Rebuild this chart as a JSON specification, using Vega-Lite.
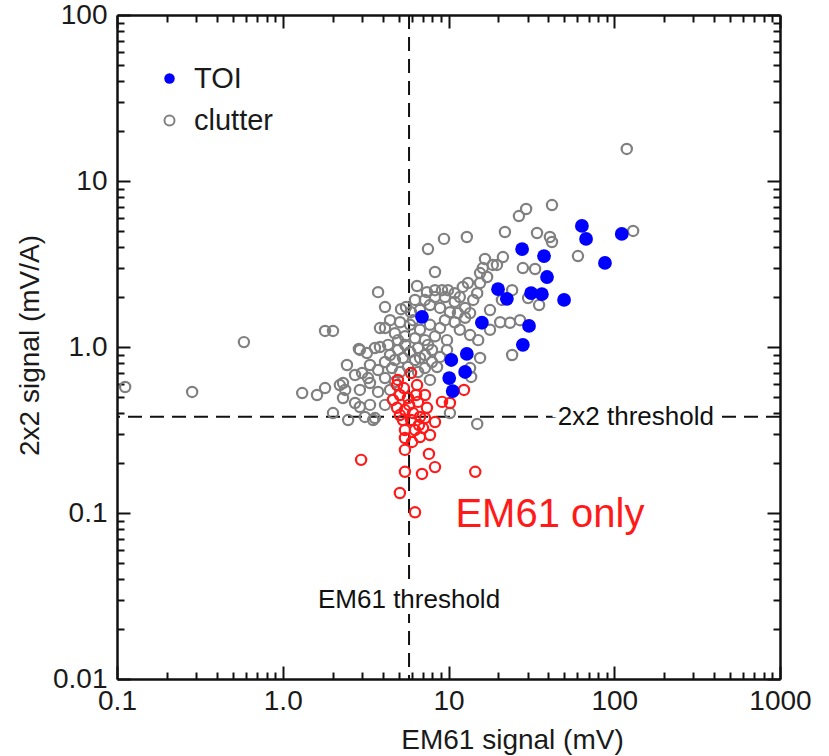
{
  "$schema": "https://vega.github.io/schema/vega-lite/v6.json",
  "width": 663,
  "height": 664,
  "autosize": {"type": "none"},
  "padding": {"left": 117, "top": 15, "right": 49, "bottom": 77},
  "background": "white",
  "config": {
    "view": {"stroke": null},
    "font": "Liberation Sans",
    "axis": {"grid": false}
  },
  "datasets": {
    "pts": [
      {"em61": 0.112, "s2x2": 0.574, "group": "clutter"},
      {"em61": 0.284, "s2x2": 0.536, "group": "clutter"},
      {"em61": 0.583, "s2x2": 1.07, "group": "clutter"},
      {"em61": 1.31, "s2x2": 0.528, "group": "clutter"},
      {"em61": 1.61, "s2x2": 0.514, "group": "clutter"},
      {"em61": 1.80, "s2x2": 0.566, "group": "clutter"},
      {"em61": 2.21, "s2x2": 0.590, "group": "clutter"},
      {"em61": 2.31, "s2x2": 0.493, "group": "clutter"},
      {"em61": 2.44, "s2x2": 0.779, "group": "clutter"},
      {"em61": 2.92, "s2x2": 0.960, "group": "clutter"},
      {"em61": 2.01, "s2x2": 0.400, "group": "clutter"},
      {"em61": 2.48, "s2x2": 0.363, "group": "clutter"},
      {"em61": 3.60, "s2x2": 0.373, "group": "clutter"},
      {"em61": 2.92, "s2x2": 0.435, "group": "clutter"},
      {"em61": 1.80, "s2x2": 1.25, "group": "clutter"},
      {"em61": 2.01, "s2x2": 1.25, "group": "clutter"},
      {"em61": 3.76, "s2x2": 2.14, "group": "clutter"},
      {"em61": 4.14, "s2x2": 1.74, "group": "clutter"},
      {"em61": 3.86, "s2x2": 1.30, "group": "clutter"},
      {"em61": 4.14, "s2x2": 1.30, "group": "clutter"},
      {"em61": 7.52, "s2x2": 3.89, "group": "clutter"},
      {"em61": 9.39, "s2x2": 4.48, "group": "clutter"},
      {"em61": 12.9, "s2x2": 4.60, "group": "clutter"},
      {"em61": 21.9, "s2x2": 4.93, "group": "clutter"},
      {"em61": 34.2, "s2x2": 4.86, "group": "clutter"},
      {"em61": 40.9, "s2x2": 4.60, "group": "clutter"},
      {"em61": 42.1, "s2x2": 4.29, "group": "clutter"},
      {"em61": 26.6, "s2x2": 6.15, "group": "clutter"},
      {"em61": 29.4, "s2x2": 6.78, "group": "clutter"},
      {"em61": 42.1, "s2x2": 7.16, "group": "clutter"},
      {"em61": 8.29, "s2x2": 2.83, "group": "clutter"},
      {"em61": 16.6, "s2x2": 3.39, "group": "clutter"},
      {"em61": 21.3, "s2x2": 3.48, "group": "clutter"},
      {"em61": 19.6, "s2x2": 3.12, "group": "clutter"},
      {"em61": 16.1, "s2x2": 2.99, "group": "clutter"},
      {"em61": 18.5, "s2x2": 3.12, "group": "clutter"},
      {"em61": 28.1, "s2x2": 2.99, "group": "clutter"},
      {"em61": 33.3, "s2x2": 2.95, "group": "clutter"},
      {"em61": 60.4, "s2x2": 3.53, "group": "clutter"},
      {"em61": 130, "s2x2": 5.00, "group": "clutter"},
      {"em61": 119, "s2x2": 15.6, "group": "clutter"},
      {"em61": 17.1, "s2x2": 2.64, "group": "clutter"},
      {"em61": 15.5, "s2x2": 2.43, "group": "clutter"},
      {"em61": 15.5, "s2x2": 2.79, "group": "clutter"},
      {"em61": 6.46, "s2x2": 2.33, "group": "clutter"},
      {"em61": 7.41, "s2x2": 2.14, "group": "clutter"},
      {"em61": 8.29, "s2x2": 2.20, "group": "clutter"},
      {"em61": 9.14, "s2x2": 2.20, "group": "clutter"},
      {"em61": 9.93, "s2x2": 2.20, "group": "clutter"},
      {"em61": 10.9, "s2x2": 2.11, "group": "clutter"},
      {"em61": 12.2, "s2x2": 2.30, "group": "clutter"},
      {"em61": 13.1, "s2x2": 2.43, "group": "clutter"},
      {"em61": 24.2, "s2x2": 2.20, "group": "clutter"},
      {"em61": 14.9, "s2x2": 2.11, "group": "clutter"},
      {"em61": 14.1, "s2x2": 1.92, "group": "clutter"},
      {"em61": 21.0, "s2x2": 1.92, "group": "clutter"},
      {"em61": 30.2, "s2x2": 1.97, "group": "clutter"},
      {"em61": 35.2, "s2x2": 1.79, "group": "clutter"},
      {"em61": 5.17, "s2x2": 1.69, "group": "clutter"},
      {"em61": 5.54, "s2x2": 1.74, "group": "clutter"},
      {"em61": 5.94, "s2x2": 1.62, "group": "clutter"},
      {"em61": 6.73, "s2x2": 1.67, "group": "clutter"},
      {"em61": 7.73, "s2x2": 1.79, "group": "clutter"},
      {"em61": 8.89, "s2x2": 1.72, "group": "clutter"},
      {"em61": 10.2, "s2x2": 1.62, "group": "clutter"},
      {"em61": 11.4, "s2x2": 1.60, "group": "clutter"},
      {"em61": 12.6, "s2x2": 1.72, "group": "clutter"},
      {"em61": 9.52, "s2x2": 2.00, "group": "clutter"},
      {"em61": 10.9, "s2x2": 1.87, "group": "clutter"},
      {"em61": 8.29, "s2x2": 2.00, "group": "clutter"},
      {"em61": 7.21, "s2x2": 1.92, "group": "clutter"},
      {"em61": 6.28, "s2x2": 1.92, "group": "clutter"},
      {"em61": 20.5, "s2x2": 1.41, "group": "clutter"},
      {"em61": 23.5, "s2x2": 1.40, "group": "clutter"},
      {"em61": 27.0, "s2x2": 1.45, "group": "clutter"},
      {"em61": 17.8, "s2x2": 1.27, "group": "clutter"},
      {"em61": 15.1, "s2x2": 1.10, "group": "clutter"},
      {"em61": 9.79, "s2x2": 1.10, "group": "clutter"},
      {"em61": 5.10, "s2x2": 1.41, "group": "clutter"},
      {"em61": 5.86, "s2x2": 1.36, "group": "clutter"},
      {"em61": 6.73, "s2x2": 1.27, "group": "clutter"},
      {"em61": 7.73, "s2x2": 1.36, "group": "clutter"},
      {"em61": 8.89, "s2x2": 1.30, "group": "clutter"},
      {"em61": 4.75, "s2x2": 1.21, "group": "clutter"},
      {"em61": 5.47, "s2x2": 1.16, "group": "clutter"},
      {"em61": 6.28, "s2x2": 1.13, "group": "clutter"},
      {"em61": 7.21, "s2x2": 1.10, "group": "clutter"},
      {"em61": 8.29, "s2x2": 1.16, "group": "clutter"},
      {"em61": 11.7, "s2x2": 1.27, "group": "clutter"},
      {"em61": 13.5, "s2x2": 1.18, "group": "clutter"},
      {"em61": 6.11, "s2x2": 1.45, "group": "clutter"},
      {"em61": 2.88, "s2x2": 0.973, "group": "clutter"},
      {"em61": 3.22, "s2x2": 0.920, "group": "clutter"},
      {"em61": 3.60, "s2x2": 0.986, "group": "clutter"},
      {"em61": 3.86, "s2x2": 1.00, "group": "clutter"},
      {"em61": 4.32, "s2x2": 1.03, "group": "clutter"},
      {"em61": 4.44, "s2x2": 0.895, "group": "clutter"},
      {"em61": 4.96, "s2x2": 0.960, "group": "clutter"},
      {"em61": 5.47, "s2x2": 1.03, "group": "clutter"},
      {"em61": 5.86, "s2x2": 0.933, "group": "clutter"},
      {"em61": 6.55, "s2x2": 0.986, "group": "clutter"},
      {"em61": 7.21, "s2x2": 0.895, "group": "clutter"},
      {"em61": 7.95, "s2x2": 0.960, "group": "clutter"},
      {"em61": 8.89, "s2x2": 0.871, "group": "clutter"},
      {"em61": 9.79, "s2x2": 0.960, "group": "clutter"},
      {"em61": 8.53, "s2x2": 0.758, "group": "clutter"},
      {"em61": 15.5, "s2x2": 0.859, "group": "clutter"},
      {"em61": 24.2, "s2x2": 0.895, "group": "clutter"},
      {"em61": 4.75, "s2x2": 0.835, "group": "clutter"},
      {"em61": 5.31, "s2x2": 0.859, "group": "clutter"},
      {"em61": 6.28, "s2x2": 0.835, "group": "clutter"},
      {"em61": 7.52, "s2x2": 1.03, "group": "clutter"},
      {"em61": 3.01, "s2x2": 0.697, "group": "clutter"},
      {"em61": 3.36, "s2x2": 0.779, "group": "clutter"},
      {"em61": 3.76, "s2x2": 0.727, "group": "clutter"},
      {"em61": 4.14, "s2x2": 0.812, "group": "clutter"},
      {"em61": 4.56, "s2x2": 0.747, "group": "clutter"},
      {"em61": 5.10, "s2x2": 0.707, "group": "clutter"},
      {"em61": 5.70, "s2x2": 0.758, "group": "clutter"},
      {"em61": 6.55, "s2x2": 0.707, "group": "clutter"},
      {"em61": 7.21, "s2x2": 0.747, "group": "clutter"},
      {"em61": 13.5, "s2x2": 0.747, "group": "clutter"},
      {"em61": 13.7, "s2x2": 0.660, "group": "clutter"},
      {"em61": 4.14, "s2x2": 0.650, "group": "clutter"},
      {"em61": 4.75, "s2x2": 0.615, "group": "clutter"},
      {"em61": 2.73, "s2x2": 0.678, "group": "clutter"},
      {"em61": 3.27, "s2x2": 0.650, "group": "clutter"},
      {"em61": 2.31, "s2x2": 0.607, "group": "clutter"},
      {"em61": 2.38, "s2x2": 0.551, "group": "clutter"},
      {"em61": 2.92, "s2x2": 0.551, "group": "clutter"},
      {"em61": 3.36, "s2x2": 0.607, "group": "clutter"},
      {"em61": 3.76, "s2x2": 0.536, "group": "clutter"},
      {"em61": 4.44, "s2x2": 0.551, "group": "clutter"},
      {"em61": 7.73, "s2x2": 0.633, "group": "clutter"},
      {"em61": 2.73, "s2x2": 0.460, "group": "clutter"},
      {"em61": 3.36, "s2x2": 0.448, "group": "clutter"},
      {"em61": 3.13, "s2x2": 0.379, "group": "clutter"},
      {"em61": 3.51, "s2x2": 0.363, "group": "clutter"},
      {"em61": 10.2, "s2x2": 0.400, "group": "clutter"},
      {"em61": 4.14, "s2x2": 0.448, "group": "clutter"},
      {"em61": 14.9, "s2x2": 0.344, "group": "clutter"},
      {"em61": 9.52, "s2x2": 1.45, "group": "clutter"},
      {"em61": 10.9, "s2x2": 1.41, "group": "clutter"},
      {"em61": 12.6, "s2x2": 1.50, "group": "clutter"},
      {"em61": 4.44, "s2x2": 1.45, "group": "clutter"},
      {"em61": 4.96, "s2x2": 1.10, "group": "clutter"},
      {"em61": 6.73, "s2x2": 0.859, "group": "clutter"},
      {"em61": 7.95, "s2x2": 0.812, "group": "clutter"},
      {"em61": 11.7, "s2x2": 2.00, "group": "clutter"},
      {"em61": 13.5, "s2x2": 1.60, "group": "clutter"},
      {"em61": 17.8, "s2x2": 1.67, "group": "clutter"},
      {"em61": 5.94, "s2x2": 0.697, "group": "EM61 only"},
      {"em61": 4.89, "s2x2": 0.590, "group": "EM61 only"},
      {"em61": 5.38, "s2x2": 0.566, "group": "EM61 only"},
      {"em61": 6.46, "s2x2": 0.590, "group": "EM61 only"},
      {"em61": 7.21, "s2x2": 0.514, "group": "EM61 only"},
      {"em61": 9.14, "s2x2": 0.467, "group": "EM61 only"},
      {"em61": 10.2, "s2x2": 0.460, "group": "EM61 only"},
      {"em61": 12.4, "s2x2": 0.551, "group": "EM61 only"},
      {"em61": 4.62, "s2x2": 0.480, "group": "EM61 only"},
      {"em61": 5.09, "s2x2": 0.514, "group": "EM61 only"},
      {"em61": 5.70, "s2x2": 0.493, "group": "EM61 only"},
      {"em61": 6.55, "s2x2": 0.467, "group": "EM61 only"},
      {"em61": 7.41, "s2x2": 0.430, "group": "EM61 only"},
      {"em61": 4.89, "s2x2": 0.430, "group": "EM61 only"},
      {"em61": 5.46, "s2x2": 0.417, "group": "EM61 only"},
      {"em61": 6.11, "s2x2": 0.400, "group": "EM61 only"},
      {"em61": 6.73, "s2x2": 0.379, "group": "EM61 only"},
      {"em61": 8.29, "s2x2": 0.353, "group": "EM61 only"},
      {"em61": 5.31, "s2x2": 0.363, "group": "EM61 only"},
      {"em61": 5.94, "s2x2": 0.363, "group": "EM61 only"},
      {"em61": 6.64, "s2x2": 0.339, "group": "EM61 only"},
      {"em61": 5.46, "s2x2": 0.316, "group": "EM61 only"},
      {"em61": 6.28, "s2x2": 0.316, "group": "EM61 only"},
      {"em61": 7.02, "s2x2": 0.325, "group": "EM61 only"},
      {"em61": 7.73, "s2x2": 0.295, "group": "EM61 only"},
      {"em61": 5.46, "s2x2": 0.283, "group": "EM61 only"},
      {"em61": 6.03, "s2x2": 0.268, "group": "EM61 only"},
      {"em61": 6.73, "s2x2": 0.287, "group": "EM61 only"},
      {"em61": 5.46, "s2x2": 0.240, "group": "EM61 only"},
      {"em61": 7.62, "s2x2": 0.227, "group": "EM61 only"},
      {"em61": 8.29, "s2x2": 0.189, "group": "EM61 only"},
      {"em61": 6.92, "s2x2": 0.172, "group": "EM61 only"},
      {"em61": 5.46, "s2x2": 0.177, "group": "EM61 only"},
      {"em61": 2.97, "s2x2": 0.209, "group": "EM61 only"},
      {"em61": 14.5, "s2x2": 0.177, "group": "EM61 only"},
      {"em61": 5.09, "s2x2": 0.132, "group": "EM61 only"},
      {"em61": 6.28, "s2x2": 0.101, "group": "EM61 only"},
      {"em61": 4.95, "s2x2": 0.633, "group": "EM61 only"},
      {"em61": 5.78, "s2x2": 0.448, "group": "EM61 only"},
      {"em61": 6.37, "s2x2": 0.514, "group": "EM61 only"},
      {"em61": 5.09, "s2x2": 0.389, "group": "EM61 only"},
      {"em61": 7.21, "s2x2": 0.373, "group": "EM61 only"},
      {"em61": 6.92, "s2x2": 1.52, "group": "TOI"},
      {"em61": 10.4, "s2x2": 0.835, "group": "TOI"},
      {"em61": 12.9, "s2x2": 0.908, "group": "TOI"},
      {"em61": 12.6, "s2x2": 0.707, "group": "TOI"},
      {"em61": 10.1, "s2x2": 0.650, "group": "TOI"},
      {"em61": 10.6, "s2x2": 0.543, "group": "TOI"},
      {"em61": 15.9, "s2x2": 1.40, "group": "TOI"},
      {"em61": 19.9, "s2x2": 2.23, "group": "TOI"},
      {"em61": 22.5, "s2x2": 1.95, "group": "TOI"},
      {"em61": 27.8, "s2x2": 3.89, "group": "TOI"},
      {"em61": 37.7, "s2x2": 3.53, "group": "TOI"},
      {"em61": 39.3, "s2x2": 2.64, "group": "TOI"},
      {"em61": 31.5, "s2x2": 2.11, "group": "TOI"},
      {"em61": 36.6, "s2x2": 2.08, "group": "TOI"},
      {"em61": 30.6, "s2x2": 1.34, "group": "TOI"},
      {"em61": 28.1, "s2x2": 1.03, "group": "TOI"},
      {"em61": 49.8, "s2x2": 1.92, "group": "TOI"},
      {"em61": 63.8, "s2x2": 5.36, "group": "TOI"},
      {"em61": 67.6, "s2x2": 4.48, "group": "TOI"},
      {"em61": 87.9, "s2x2": 3.21, "group": "TOI"},
      {"em61": 111, "s2x2": 4.80, "group": "TOI"}
    ],
    "thresholds": [{"em61": 5.78, "s2x2": 0.38}],
    "ann": [
      {"em61": 135, "s2x2": 0.38, "label": "2x2 threshold"},
      {"em61": 5.78, "s2x2": 0.030, "label": "EM61 threshold"}
    ],
    "only": [{"em61": 40.9, "s2x2": 0.0973, "label": "EM61 only"}]
  },
  "resolve": {"axis": {"x": "independent", "y": "independent"}},
  "layer": [
    {
      "data": {"name": "thresholds"},
      "mark": {"type": "rule", "color": "#111111", "strokeWidth": 2, "strokeDash": [14, 8]},
      "encoding": {
        "x": {"field": "em61", "type": "quantitative", "scale": {"type": "log", "domain": [0.1, 1000], "nice": false}, "axis": null}
      }
    },
    {
      "data": {"name": "thresholds"},
      "mark": {"type": "rule", "color": "#111111", "strokeWidth": 2, "strokeDash": [14, 8]},
      "encoding": {
        "y": {"field": "s2x2", "type": "quantitative", "scale": {"type": "log", "domain": [0.01, 100], "nice": false}, "axis": null}
      }
    },
    {
      "data": {"name": "ann"},
      "mark": {"type": "text", "fontSize": 26, "font": "Liberation Sans", "color": "white", "stroke": "white", "strokeWidth": 12, "align": "center", "baseline": "middle"},
      "encoding": {
        "x": {"field": "em61", "type": "quantitative", "axis": null},
        "y": {"field": "s2x2", "type": "quantitative", "axis": null},
        "text": {"field": "label"}
      }
    },
    {
      "data": {"name": "ann"},
      "mark": {"type": "text", "fontSize": 26, "font": "Liberation Sans", "color": "#111111", "align": "center", "baseline": "middle"},
      "encoding": {
        "x": {"field": "em61", "type": "quantitative", "axis": null},
        "y": {"field": "s2x2", "type": "quantitative", "axis": null},
        "text": {"field": "label"}
      }
    },
    {
      "data": {"name": "only"},
      "mark": {"type": "text", "fontSize": 40, "font": "Liberation Sans", "color": "#ff1a1a", "align": "center", "baseline": "middle"},
      "encoding": {
        "x": {"field": "em61", "type": "quantitative", "axis": null},
        "y": {"field": "s2x2", "type": "quantitative", "axis": null},
        "text": {"field": "label"}
      }
    },
    {
      "data": {"name": "pts"},
      "transform": [{"filter": "datum.group === 'clutter'"}],
      "mark": {"type": "point", "shape": "circle", "filled": false, "strokeWidth": 2.2, "size": 105, "opacity": 1},
      "encoding": {
        "x": {
          "field": "em61", "type": "quantitative",
          "axis": {
            "orient": "bottom",
            "values": [0.1, 0.2, 0.3, 0.4, 0.5, 0.6, 0.7, 0.8, 0.9, 1, 2, 3, 4, 5, 6, 7, 8, 9, 10, 20, 30, 40, 50, 60, 70, 80, 90, 100, 200, 300, 400, 500, 600, 700, 800, 900, 1000],
            "tickSize": {"condition": {"test": "abs(log(datum.value)/LN10 - round(log(datum.value)/LN10)) < 0.01", "value": -13}, "value": -7},
            "tickWidth": 2, "tickColor": "#111111",
            "domainColor": "#111111", "domainWidth": 2.5,
            "labelFontSize": 28, "labelFont": "Liberation Sans", "labelColor": "#1a1a1a",
            "labelPadding": 21, "labelFlush": false, "labelOverlap": false, "labelBound": false,
            "labelExpr": "abs(log(datum.value)/LN10 - round(log(datum.value)/LN10)) < 0.01 ? (abs(datum.value - 1) < 0.01 ? '1.0' : '' + datum.value) : ''",
            "title": "EM61 signal (mV)", "titleFontSize": 28, "titleFont": "Liberation Sans", "titleFontWeight": "normal", "titleColor": "#1a1a1a",
            "titleX": 395, "titleY": 61, "titleBaseline": "middle", "titleAlign": "center"
          }
        },
        "y": {
          "field": "s2x2", "type": "quantitative",
          "axis": {
            "orient": "left",
            "values": [0.01, 0.02, 0.03, 0.04, 0.05, 0.06, 0.07, 0.08, 0.09, 0.1, 0.2, 0.3, 0.4, 0.5, 0.6, 0.7, 0.8, 0.9, 1, 2, 3, 4, 5, 6, 7, 8, 9, 10, 20, 30, 40, 50, 60, 70, 80, 90, 100],
            "tickSize": {"expr": "abs(log(datum.value)/LN10 - round(log(datum.value)/LN10)) < 0.01 ? -13 : -7"},
            "tickWidth": 2, "tickColor": "#111111",
            "domainColor": "#111111", "domainWidth": 2.5,
            "labelFontSize": 28, "labelFont": "Liberation Sans", "labelColor": "#1a1a1a",
            "labelPadding": 23, "labelFlush": false, "labelOverlap": false, "labelBound": false,
            "labelExpr": "abs(log(datum.value)/LN10 - round(log(datum.value)/LN10)) < 0.01 ? (abs(datum.value - 1) < 0.01 ? '1.0' : '' + datum.value) : ''",
            "title": "2x2 signal (mV/A)", "titleFontSize": 28, "titleFont": "Liberation Sans", "titleFontWeight": "normal", "titleColor": "#1a1a1a",
            "titleX": -87, "titleY": 330, "titleAngle": -90, "titleBaseline": "middle", "titleAlign": "center"
          }
        },
        "stroke": {
          "field": "group", "type": "nominal",
          "scale": {"domain": ["clutter", "EM61 only"], "range": ["#808080", "#ff1a1a"]},
          "legend": {
            "title": null, "orient": "none", "legendX": 38, "legendY": 91,
            "values": ["clutter"],
            "labelFontSize": 29, "labelFont": "Liberation Sans", "labelColor": "#1a1a1a",
            "labelOffset": 10, "symbolType": "circle", "symbolSize": 100,
            "symbolFillColor": "transparent", "symbolStrokeWidth": 2
          }
        }
      }
    },
    {
      "data": {"name": "pts"},
      "transform": [{"filter": "datum.group === 'EM61 only'"}],
      "mark": {"type": "point", "shape": "circle", "filled": false, "strokeWidth": 2.2, "size": 105, "opacity": 1},
      "encoding": {
        "x": {"field": "em61", "type": "quantitative", "axis": null},
        "y": {"field": "s2x2", "type": "quantitative", "axis": null},
        "stroke": {"field": "group", "type": "nominal", "legend": null}
      }
    },
    {
      "data": {"name": "pts"},
      "transform": [{"filter": "datum.group === 'TOI'"}],
      "mark": {"type": "point", "shape": "circle", "filled": true, "size": 190, "opacity": 1},
      "encoding": {
        "x": {
          "field": "em61", "type": "quantitative",
          "axis": {
            "orient": "top",
            "values": [0.1, 0.2, 0.3, 0.4, 0.5, 0.6, 0.7, 0.8, 0.9, 1, 2, 3, 4, 5, 6, 7, 8, 9, 10, 20, 30, 40, 50, 60, 70, 80, 90, 100, 200, 300, 400, 500, 600, 700, 800, 900, 1000],
            "tickSize": {"condition": {"test": "abs(log(datum.value)/LN10 - round(log(datum.value)/LN10)) < 0.01", "value": -13}, "value": -7},
            "tickWidth": 2, "tickColor": "#111111",
            "domainColor": "#111111", "domainWidth": 2.5,
            "labels": false, "title": null
          }
        },
        "y": {
          "field": "s2x2", "type": "quantitative",
          "axis": {
            "orient": "right",
            "values": [0.01, 0.02, 0.03, 0.04, 0.05, 0.06, 0.07, 0.08, 0.09, 0.1, 0.2, 0.3, 0.4, 0.5, 0.6, 0.7, 0.8, 0.9, 1, 2, 3, 4, 5, 6, 7, 8, 9, 10, 20, 30, 40, 50, 60, 70, 80, 90, 100],
            "tickSize": {"expr": "abs(log(datum.value)/LN10 - round(log(datum.value)/LN10)) < 0.01 ? -13 : -7"},
            "tickWidth": 2, "tickColor": "#111111",
            "domainColor": "#111111", "domainWidth": 2.5,
            "labels": false, "title": null
          }
        },
        "fill": {
          "field": "group", "type": "nominal",
          "scale": {"domain": ["TOI"], "range": ["#0000ff"]},
          "legend": {
            "title": null, "orient": "none", "legendX": 38, "legendY": 49,
            "labelFontSize": 29, "labelFont": "Liberation Sans", "labelColor": "#1a1a1a",
            "labelOffset": 10, "symbolType": "circle", "symbolSize": 110, "symbolStrokeWidth": 0
          }
        }
      }
    }
  ]
}
